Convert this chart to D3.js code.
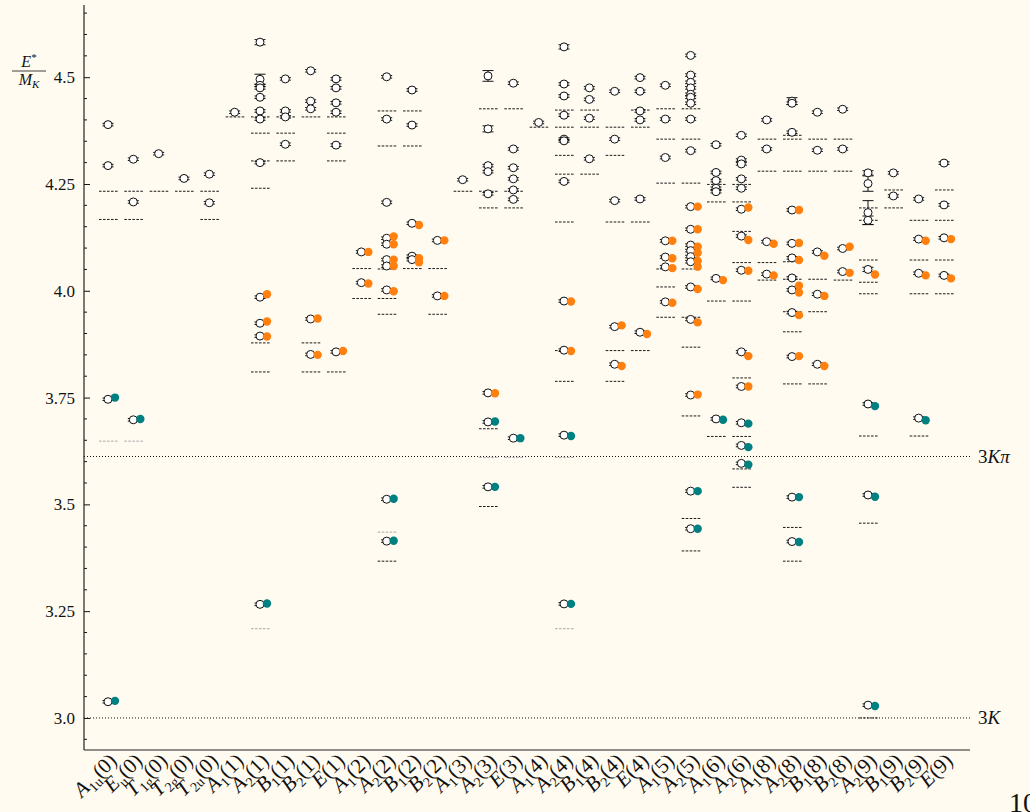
<!DOCTYPE html>
<html>
<head>
<meta charset="utf-8">
<script src="https://cdn.jsdelivr.net/npm/d3@7"></script>
<style>
  body { margin: 0; background: #fffbf0; }
  svg { display: block; }
  text { font-family: "Liberation Serif", "DejaVu Serif", serif; fill: #111; }
</style>
</head>
<body>
<svg id="chart" width="1030" height="812"></svg>
<script>
// irreps, one column each
const categories = ["A1u(0)", "Eu(0)", "T1g(0)", "T2g(0)", "T2u(0)",
  "A1(1)", "A2(1)", "B1(1)", "B2(1)", "E(1)",
  "A1(2)", "A2(2)", "B1(2)", "B2(2)",
  "A1(3)", "A2(3)", "E(3)",
  "A1(4)", "A2(4)", "B1(4)", "B2(4)", "E(4)",
  "A1(5)", "A2(5)", "A1(6)", "A2(6)",
  "A1(8)", "A2(8)", "B1(8)", "B2(8)",
  "A2(9)", "B1(9)", "B2(9)", "E(9)"];

// lattice energies (open circles): value, or [value, error]
const latticeLevels = [
  [4.389, 4.293, 3.746, 3.038],
  [4.308, 4.208, 3.698],
  [4.321],
  [4.263],
  [4.273, 4.206],
  [4.418],
  [[4.582, 0.006], [4.495, 0.012], 4.481, 4.475, 4.453, 4.421, 4.402, 4.300, 3.985, 3.924, 3.894, 3.266],
  [4.496, 4.421, 4.407, 4.343],
  [4.515, 4.444, 4.426, 3.934, 3.851],
  [4.496, 4.475, 4.440, 4.418, 4.341, 3.857],
  [4.091, 4.019],
  [4.501, 4.402, 4.207, 4.123, 4.109, 4.073, 4.058, 4.002, 3.512, 3.414],
  [4.470, 4.388, 4.158, 4.081, 4.073],
  [4.118, 3.988],
  [4.260],
  [[4.503, 0.0125], [4.379, 0.007], 4.293, 4.279, 4.227, 3.761, 3.693, 3.541],
  [4.486, 4.332, 4.288, 4.262, 4.236, 4.214, 3.655],
  [4.394],
  [[4.571, 0.005], 4.484, 4.456, 4.411, 4.355, 4.351, 4.256, 3.976, 3.861, 3.662, 3.267],
  [4.475, 4.448, 4.404, 4.309],
  [4.467, 4.355, 4.211, 3.916, 3.828],
  [4.499, 4.467, 4.421, 4.400, 4.215, 3.903],
  [4.481, 4.402, 4.312, 4.117, 4.079, 4.056, 3.974],
  [4.551, 4.505, 4.488, 4.475, 4.460, 4.453, 4.439, 4.402, 4.328, 4.197, 4.144, 4.107, 4.094, 4.080, 4.068, 4.009, 3.933, 3.756, 3.531, 3.443],
  [4.342, 4.277, 4.258, 4.240, 4.232, 4.029, 3.700],
  [4.364, 4.306, 4.297, 4.262, 4.240, 4.191, 4.128, 4.048, 3.857, 3.776, 3.691, 3.638, 3.596],
  [4.400, 4.332, 4.115, 4.039],
  [[4.444, 0.008], 4.439, 4.371, 4.189, 4.111, 4.077, 4.030, 4.002, 3.949, 3.846, 3.517, 3.413],
  [4.418, 4.329, 4.091, 3.992, 3.828],
  [4.425, 4.332, 4.099, 4.045],
  [[4.276, 0.005], [4.251, 0.018], [4.183, 0.028], [4.165, 0.01], [4.050, 0.005], 3.735, 3.522, 3.030],
  [4.276, 4.222],
  [4.215, 4.121, 4.041, 3.702],
  [4.299, 4.201, 4.124, 4.036]
];

// model levels, orange dots
const orangeLevels = [
  [], [], [], [], [], [],
  [3.992, 3.928, 3.893],
  [],
  [3.935, 3.850],
  [3.859],
  [4.091, 4.017],
  [4.127, 4.109, 4.073, 4.058, 3.999],
  [4.154, 4.076, 4.067],
  [4.118, 3.988],
  [],
  [3.760],
  [],
  [],
  [3.975, 3.859],
  [],
  [3.919, 3.824],
  [3.899],
  [4.117, 4.076, 4.053, 3.972],
  [4.197, 4.144, 4.103, 4.089, 4.070, 4.056, 4.004, 3.926, 3.757],
  [4.025],
  [4.195, 4.119, 4.047, 3.847, 3.776],
  [4.110, 4.036],
  [4.189, 4.112, 4.072, 4.012, 3.996, 3.943, 3.847],
  [4.082, 3.988, 3.824],
  [4.103, 4.042],
  [4.038],
  [],
  [4.117, 4.036],
  [4.121, 4.029]
];

// model levels, teal dots
const tealLevels = [
  [3.750, 3.040], [3.700], [], [], [], [],
  [3.268], [], [], [], [],
  [3.513, 3.415], [], [], [],
  [3.694, 3.541], [3.655], [],
  [3.660, 3.267], [], [], [], [],
  [3.531, 3.443], [3.698], [3.689, 3.634, 3.593],
  [], [3.517, 3.412], [], [],
  [3.730, 3.518, 3.028], [], [3.697], []
];

// non-interacting levels (black dashes)
const freeLevels = [
  [4.233, 4.167], [4.233, 4.167], [4.233], [4.233], [4.233, 4.167],
  [4.407],
  [4.407, 4.369, 4.304, 4.240, 3.878, 3.810],
  [4.407, 4.369, 4.304],
  [4.407, 3.878, 3.810],
  [4.407, 4.369, 4.304, 3.810],
  [4.052, 3.982],
  [4.421, 4.339, 4.051, 3.982, 3.945, 3.367],
  [4.421, 4.339, 4.052],
  [4.052, 3.945],
  [4.233],
  [4.426, 4.233, 4.194, 3.677, 3.495],
  [4.426, 4.233, 4.194],
  [4.383],
  [4.423, 4.383, 4.317, 4.273, 4.161, 3.860, 3.788],
  [4.423, 4.383, 4.273],
  [4.383, 4.317, 4.161, 3.860, 3.788],
  [4.423, 4.383, 4.161, 3.860],
  [4.426, 4.355, 4.252, 4.051, 4.009, 3.938],
  [4.426, 4.355, 4.252, 4.051, 3.938, 3.868, 3.707, 3.467, 3.391],
  [4.249, 4.208, 3.976, 3.659],
  [4.249, 4.208, 4.139, 4.066, 3.976, 3.796, 3.659, 3.583, 3.540],
  [4.355, 4.280, 4.066, 4.025],
  [4.364, 4.355, 4.280, 4.068, 4.027, 3.951, 3.904, 3.782, 3.446, 3.367],
  [4.355, 4.280, 4.027, 3.951, 3.782],
  [4.355, 4.280, 4.025],
  [4.194, 4.165, 4.072, 4.020, 3.993, 3.660, 3.456, 3.000],
  [4.236, 4.194],
  [4.165, 4.072, 3.993, 3.660],
  [4.236, 4.165, 4.072, 3.993]
];

// levels drawn in light grey dashes
const greyLevels = [
  [3.648], [3.648], [], [], [], [],
  [3.209], [], [], [], [],
  [3.435], [], [], [],
  [3.610], [3.610], [],
  [3.610, 3.209], [], [], [], [], [], [], [],
  [], [], [], [], [], [], [], []
];

const thresholdNames = ["3K\u03c0", "3K"];
const thresholdValues = [3.612, 3.0];
const yMajorTicks = [3.0, 3.25, 3.5, 3.75, 4.0, 4.25, 4.5];

const ORANGE = "#ff800e";
const TEAL = "#008080";

const svg = d3.select("#chart");
const plotL = 84, plotR = 970, plotT = 5, plotB = 750;

svg.append("rect").attr("width", 1030).attr("height", 812).attr("fill", "#fffbf0");

const y = d3.scaleLinear().domain([2.925, 4.669]).range([plotB, plotT]);
const x = d3.scalePoint().domain(categories).range([109, 945]);

// thresholds
const thr = svg.append("g");
thresholdValues.forEach((v, i) => {
  thr.append("line")
    .attr("x1", plotL).attr("x2", plotR)
    .attr("y1", y(v)).attr("y2", y(v))
    .attr("stroke", "#111").attr("stroke-width", 1)
    .attr("stroke-dasharray", "1,2");
  let t = thr.append("text")
    .attr("x", 978).attr("y", y(v) + 6)
    .style("font-size", "19px");
  let name = thresholdNames[i];
  t.append("tspan").text(name[0]);
  t.append("tspan").style("font-style", "italic").text(name.slice(1));
});

// dashed levels
const dashW = 10;
const dashes = svg.append("g");
categories.forEach((c, i) => {
  let cx = x(c);
  dashes.selectAll(null)
    .data(freeLevels[i].map(v => ({v, col: "#1a1a1a"}))
      .concat(greyLevels[i].map(v => ({v, col: "#a8a8a8"}))))
    .join("line")
    .attr("x1", cx - dashW).attr("x2", cx + dashW)
    .attr("y1", d => y(d.v)).attr("y2", d => y(d.v))
    .attr("stroke", d => d.col)
    .attr("stroke-width", 1)
    .attr("stroke-dasharray", "2.6,1.4");
});

// lattice points with error bars
const pts = svg.append("g");
const capW = 5.5;
categories.forEach((c, i) => {
  let cx = x(c) - 1;
  let data = latticeLevels[i].map(d => Array.isArray(d) ? {v: d[0], e: d[1]} : {v: d, e: 0.003});
  let g = pts.append("g");
  let eb = g.selectAll("g.eb").data(data).join("g").attr("class", "eb")
    .attr("stroke", "#111").attr("stroke-width", 1);
  eb.append("line")
    .attr("x1", cx).attr("x2", cx)
    .attr("y1", d => y(d.v + d.e)).attr("y2", d => y(d.v - d.e));
  eb.append("line")
    .attr("x1", cx - capW).attr("x2", cx + capW)
    .attr("y1", d => y(d.v + d.e)).attr("y2", d => y(d.v + d.e));
  eb.append("line")
    .attr("x1", cx - capW).attr("x2", cx + capW)
    .attr("y1", d => y(d.v - d.e)).attr("y2", d => y(d.v - d.e));
  g.selectAll("circle").data(data).join("circle")
    .attr("cx", cx).attr("cy", d => y(d.v))
    .attr("r", 4)
    .attr("fill", "#fff").attr("stroke", "#111").attr("stroke-width", 1);
});

// model predictions
const model = svg.append("g");
categories.forEach((c, i) => {
  let cx = x(c) + 6;
  model.selectAll(null)
    .data(orangeLevels[i].map(v => ({v, col: ORANGE}))
      .concat(tealLevels[i].map(v => ({v, col: TEAL}))))
    .join("circle")
    .attr("cx", cx).attr("cy", d => y(d.v))
    .attr("r", 4.2)
    .attr("fill", d => d.col);
});

// axes
const yAxis = d3.axisLeft(y)
  .tickValues(yMajorTicks)
  .tickSize(-6)
  .tickPadding(9)
  .tickFormat(d => (d === 3 || d === 4) ? d.toFixed(1) : String(d));
const minor = d3.range(2.95, 4.66, 0.05).filter(v => !yMajorTicks.some(t => Math.abs(t - v) < 1e-6));
const ay = svg.append("g").attr("transform", `translate(${plotL},0)`).call(yAxis);
ay.select(".domain").remove();
ay.selectAll(".tick text").style("font-size", "17px").attr("fill", "#111")
  .style("font-family", "'Liberation Serif', serif");
ay.selectAll(".tick line").attr("stroke", "#111");
svg.append("g").selectAll("line").data(minor).join("line")
  .attr("x1", plotL).attr("x2", plotL + 3)
  .attr("y1", d => y(d)).attr("y2", d => y(d))
  .attr("stroke", "#111").attr("stroke-width", 1);

svg.append("line").attr("x1", plotL).attr("x2", plotL).attr("y1", plotT).attr("y2", plotB)
  .attr("stroke", "#222").attr("stroke-width", 1.2);
svg.append("line").attr("x1", plotL).attr("x2", plotR).attr("y1", plotB).attr("y2", plotB)
  .attr("stroke", "#222").attr("stroke-width", 1.2);

// x labels, rotated
const xl = svg.append("g");
categories.forEach(c => {
  let m = c.match(/^([A-Z])([^()]*)\((\d)\)$/);
  let t = xl.append("text")
    .attr("transform", `translate(${x(c) + 9},${plotB + 12}) rotate(-45)`)
    .attr("text-anchor", "end")
    .style("font-size", "21px");
  t.append("tspan").style("font-style", "italic").text(m[1]);
  if (m[2]) t.append("tspan").attr("dy", 5).style("font-size", "14px").text(m[2]);
  t.append("tspan").attr("dy", m[2] ? -5 : 0).text("(" + m[3] + ")");
});

// y label as a fraction
const yl = svg.append("g").attr("transform", "translate(29,71)");
let num = yl.append("text").attr("text-anchor", "middle").attr("y", -4).style("font-size", "16px");
num.append("tspan").style("font-style", "italic").text("E");
num.append("tspan").attr("dy", -6).style("font-size", "11px").text("*");
yl.append("line").attr("x1", -17).attr("x2", 17).attr("stroke", "#111").attr("stroke-width", 0.8);
let den = yl.append("text").attr("text-anchor", "middle").attr("y", 14).style("font-size", "16px");
den.append("tspan").style("font-style", "italic").text("M");
den.append("tspan").attr("dy", 3).style("font-size", "11px").style("font-style", "italic").text("K");

// page number peeking in at the corner
svg.append("text").attr("x", 1009).attr("y", 812).style("font-size", "28px").attr("fill", "#333").text("10");
</script>
</body>
</html>
